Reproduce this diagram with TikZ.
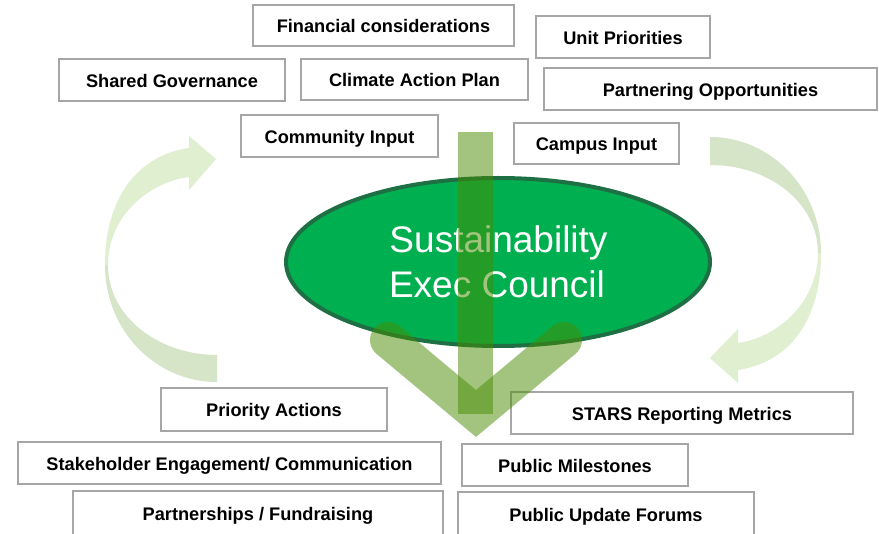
\documentclass[tikz,border=0pt]{standalone}
\usepackage{fontspec}
\setmainfont{Liberation Sans}
\usetikzlibrary{shapes.geometric}
\definecolor{boxline}{HTML}{A6A6A6}
\definecolor{ellfill}{HTML}{00B050}
\definecolor{elldraw}{HTML}{1E6F43}
\definecolor{barcol}{RGB}{71,139,0}
\definecolor{arrowlight}{HTML}{DFEFD0}
\definecolor{arrowdark}{HTML}{D6E4C8}
\tikzset{
  infobox/.style={draw=boxline, line width=1.6pt, fill=white, inner sep=0pt,
    text height=15pt, text depth=0pt,
    font=\fontsize{18.2}{20}\selectfont\bfseries},
  bigtext/.style={text=white, inner sep=0pt, anchor=base,
    font=\fontsize{37}{44}\selectfont},
  greenband/.style={fill=barcol, fill opacity=0.5, draw=none},
}
\begin{document}
\begin{tikzpicture}[x=1pt,y=-1pt]
\clip (0,0) rectangle (879,534);
\fill[white] (0,0) rectangle (879,534);

% boxes
\node[infobox, minimum width=261pt, minimum height=41pt] (fin) at (383.5,25.5) {Financial considerations};
\node[infobox, minimum width=174pt, minimum height=42pt] (unit) at (623,37) {Unit Priorities};
\node[infobox, minimum width=226pt, minimum height=42pt] (shared) at (172,80) {Shared Governance};
\node[infobox, minimum width=227pt, minimum height=41pt] (cap) at (414.5,79.5) {Climate Action Plan};
\node[infobox, minimum width=333pt, minimum height=42pt] (partop) at (710.5,89) {Partnering Opportunities};
\node[infobox, minimum width=197pt, minimum height=42pt] (comm) at (339.5,136) {Community Input};
\node[infobox, minimum width=165pt, minimum height=41pt] (campus) at (596.5,143.5) {Campus Input};
\node[infobox, minimum width=226pt, minimum height=43pt] (prio) at (274,409.5) {Priority Actions};
\node[infobox, minimum width=342pt, minimum height=42pt] (stars) at (682,413) {STARS Reporting Metrics};
\node[infobox, minimum width=423pt, minimum height=42pt] (stake) at (229.5,463) {Stakeholder Engagement/ Communication};
\node[infobox, minimum width=226pt, minimum height=42pt] (mile) at (575,465) {Public Milestones};
\node[infobox, minimum width=370pt, minimum height=44pt] (partf) at (258,513) {Partnerships / Fundraising};
\node[infobox, minimum width=296pt, minimum height=44pt] (forums) at (606,514) {Public Update Forums};

% left curved arrow
\fill[arrowdark] (217,382) .. controls (155,382) and (105,330) .. (105,265)
  -- (108,265) .. controls (108,318) and (160,355) .. (217,355) -- cycle;
\fill[arrowlight] (105,265) .. controls (105,195) and (140,155) .. (189,148)
  -- (189,136) -- (216,159) -- (189,190) -- (189,177)
  .. controls (150,182) and (108,215) .. (108,265) -- cycle;

% right curved arrow
\fill[arrowdark] (710,137) .. controls (772,137) and (821,190) .. (821,253)
  -- (818,253) .. controls (818,205) and (772,165) .. (710,165) -- cycle;
\fill[arrowlight] (821,253) .. controls (821,320) and (790,362) .. (738,370)
  -- (738,383) -- (710,358) -- (738,329) -- (738,343)
  .. controls (780,337) and (818,300) .. (818,253) -- cycle;

% central ellipse
\node[ellipse, draw=elldraw, line width=4pt, fill=ellfill,
  minimum width=424pt, minimum height=168pt, inner sep=0pt] (sec) at (498,262) {};
\node[bigtext] (sec1) at (498.5,253) {Sustainability};
\node[bigtext] (sec2) at (497,298) {Exec Council};

% chevron
\coordinate (chl) at (388,340);
\coordinate (chv) at (476,413.5);
\coordinate (chr) at (564,340);
\draw[draw=barcol, draw opacity=0.5, line width=36pt, line cap=round, line join=miter]
  (chl) -- (chv) -- (chr);

% vertical bar
\fill[greenband] (458,132) rectangle (493,414);
\end{tikzpicture}
\end{document}
